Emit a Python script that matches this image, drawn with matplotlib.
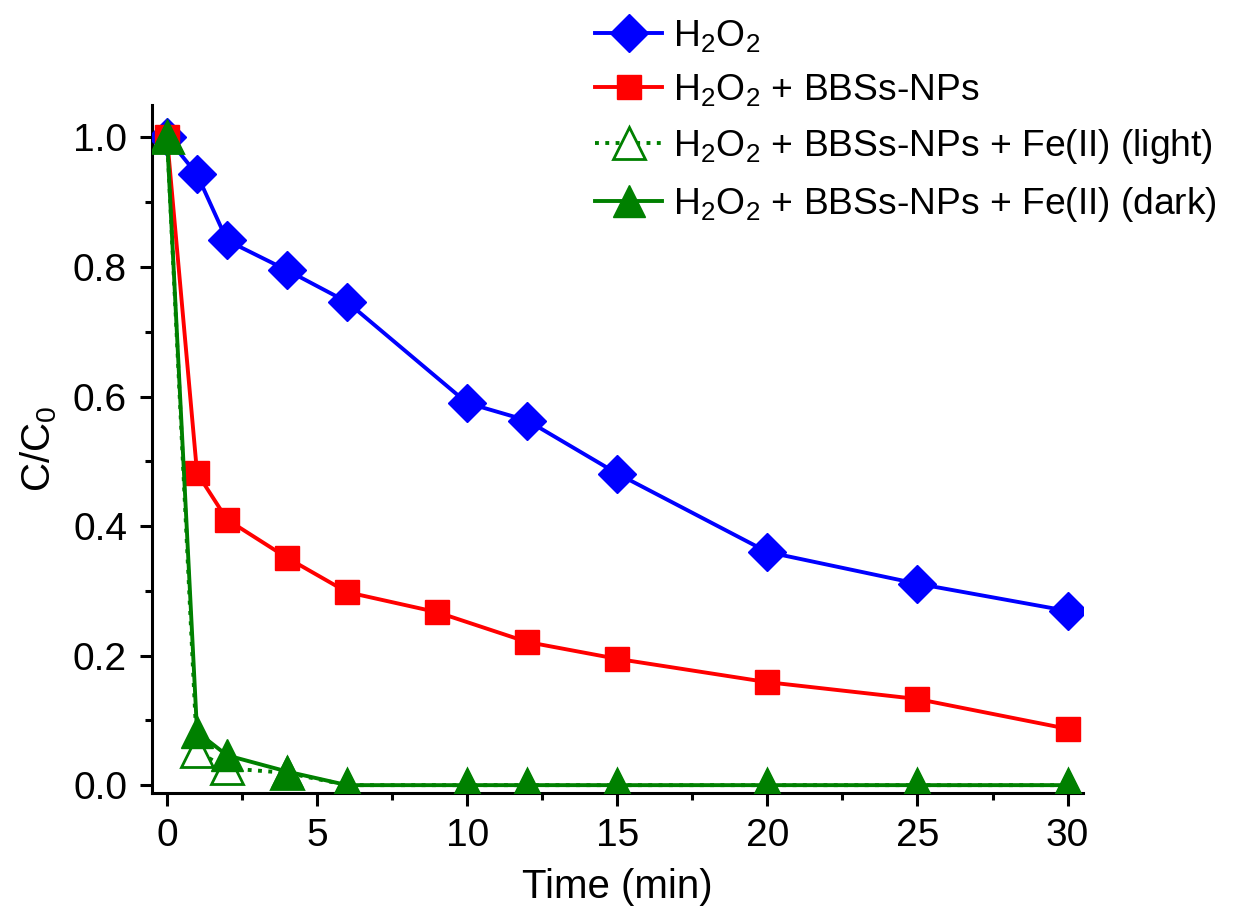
import numpy as np
import matplotlib.pyplot as plt
from matplotlib.ticker import MultipleLocator

plt.rcParams['font.family'] = ['Liberation Sans', 'DejaVu Sans']
plt.rcParams['mathtext.fontset'] = 'custom'
plt.rcParams['mathtext.rm'] = 'Liberation Sans'
plt.rcParams['mathtext.it'] = 'Liberation Sans'
plt.rcParams['mathtext.default'] = 'regular'

# data
t_h2o2 = [0, 1, 2, 4, 6, 10, 12, 15, 20, 25, 30]
c_h2o2 = [1.0, 0.943, 0.841, 0.795, 0.746, 0.590, 0.563, 0.481, 0.360, 0.311, 0.269]

t_np = [0, 1, 2, 4, 6, 9, 12, 15, 20, 25, 30]
c_np = [1.0, 0.482, 0.410, 0.351, 0.298, 0.267, 0.221, 0.195, 0.159, 0.133, 0.087]

t_fe = [0, 1, 2, 4, 6, 10, 12, 15, 20, 25, 30]
c_light = [1.0, 0.052, 0.026, 0.019, 0.0, 0.0, 0.0, 0.0, 0.0, 0.0, 0.0]
c_dark = [1.0, 0.082, 0.046, 0.021, 0.0, 0.0, 0.0, 0.0, 0.0, 0.0, 0.0]

labels = [r'H$_2$O$_2$',
          r'H$_2$O$_2$ + BBSs-NPs',
          r'H$_2$O$_2$ + BBSs-NPs + Fe(II) (light)',
          r'H$_2$O$_2$ + BBSs-NPs + Fe(II) (dark)']

fig = plt.figure(figsize=(12.33, 9.22), dpi=100)
ax = fig.add_axes([0.1233, 0.140, 0.7547, 0.746])

lw = 2.8
l1, = ax.plot(t_h2o2, c_h2o2, color='#0000ff', lw=lw, marker='D', ms=19.5, zorder=3)
l2, = ax.plot(t_np, c_np, color='#ff0000', lw=lw, marker='s', ms=17, zorder=3)
l3, = ax.plot(t_fe, c_light, color='#008000', lw=lw, ls=':', marker='^', ms=23,
              mfc='white', mec='#008000', mew=2, zorder=4)
l4, = ax.plot(t_fe, c_dark, color='#008000', lw=lw, marker='^', ms=23, zorder=5)

ax.set_xlim(-0.5, 30.5)
ax.set_ylim(-0.012, 1.05)
ax.xaxis.set_major_locator(MultipleLocator(5))
ax.xaxis.set_minor_locator(MultipleLocator(2.5))
ax.yaxis.set_major_locator(MultipleLocator(0.2))
ax.yaxis.set_minor_locator(MultipleLocator(0.1))
ax.yaxis.set_major_formatter(plt.FuncFormatter(lambda v, p: '%.1f' % v))

for s in ['top', 'right']:
    ax.spines[s].set_visible(False)
for s in ['left', 'bottom']:
    ax.spines[s].set_linewidth(2.2)
ax.tick_params(which='major', direction='out', length=9, width=2.2, labelsize=28, pad=9)
ax.tick_params(which='minor', direction='out', length=5, width=2.2)

ax.set_xlabel('Time (min)', fontsize=29, labelpad=10)
ax.set_ylabel(r'C/C$_0$', fontsize=29, labelpad=10)

fig.legend([l1, l2, l3, l4], labels, loc='upper right', bbox_to_anchor=(1.004, 1.003),
           frameon=False, fontsize=26.8, handlelength=1.8, handletextpad=0.3,
           labelspacing=0.5, borderaxespad=0.15)

fig.savefig('out.png', dpi=100)
